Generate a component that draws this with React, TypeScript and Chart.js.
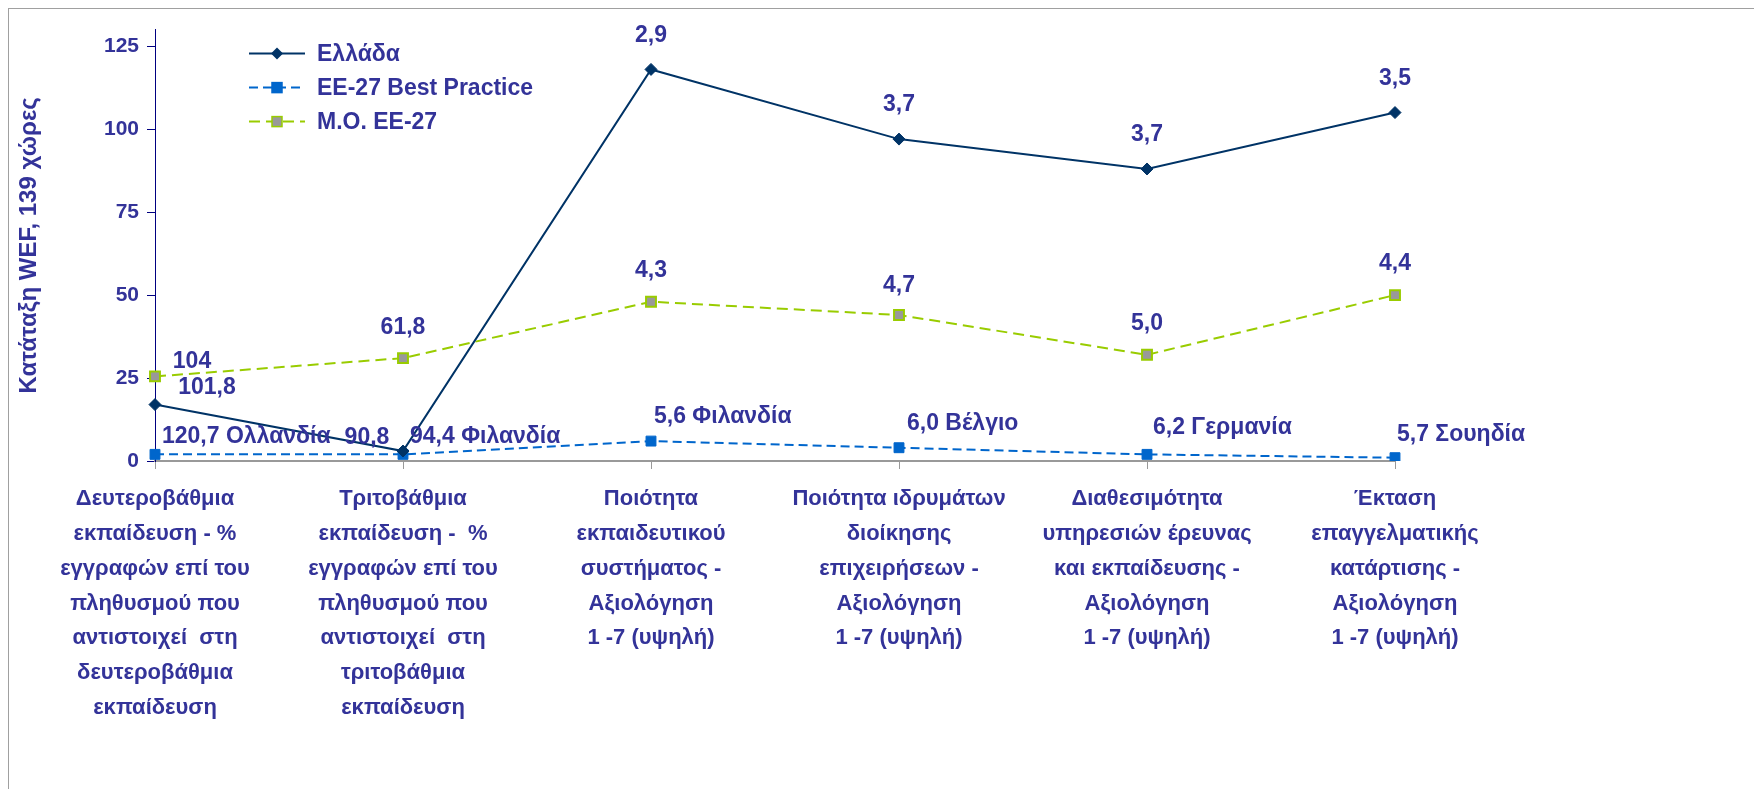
import React, { useEffect, useRef } from "react";
import { Chart, registerables } from "chart.js";

Chart.register(...registerables);

// ---------- data ----------
const categories: string[][] = [
  ["Δευτεροβάθμια", "εκπαίδευση - %", "εγγραφών επί του", "πληθυσμού που", "αντιστοιχεί  στη", "δευτεροβάθμια", "εκπαίδευση"],
  ["Τριτοβάθμια", "εκπαίδευση -  %", "εγγραφών επί του", "πληθυσμού που", "αντιστοιχεί  στη", "τριτοβάθμια", "εκπαίδευση"],
  ["Ποιότητα", "εκπαιδευτικού", "συστήματος -", "Αξιολόγηση", "1 -7 (υψηλή)"],
  ["Ποιότητα ιδρυμάτων", "διοίκησης", "επιχειρήσεων -", "Αξιολόγηση", "1 -7 (υψηλή)"],
  ["Διαθεσιμότητα", "υπηρεσιών έρευνας", "και εκπαίδευσης -", "Αξιολόγηση", "1 -7 (υψηλή)"],
  ["Έκταση", "επαγγελματικής", "κατάρτισης -", "Αξιολόγηση", "1 -7 (υψηλή)"],
];
const seriesNames = ["Ελλάδα", "ΕΕ-27 Best Practice", "Μ.Ο. ΕΕ-27"];
const greeceRank = [17, 3, 118, 97, 88, 105];
const bestRank = [2, 2, 6, 4, 2, 1];
const euAvgRank = [25.5, 31, 48, 44, 32, 50];
const greeceLabels = ["101,8", "90,8", "2,9", "3,7", "3,7", "3,5"];
const bestLabels = ["120,7 Ολλανδία", "94,4 Φιλανδία", "5,6 Φιλανδία", "6,0 Βέλγιο", "6,2 Γερμανία", "5,7 Σουηδία"];
const euAvgLabels = ["104", "61,8", "4,3", "4,7", "5,0", "4,4"];
const yTicks = [0, 25, 50, 75, 100, 125];
const yAxisMax = 130;
const yAxisTitle = "Κατάταξη WEF, 139 χώρες";

// ---------- styles ----------
const TEXT = "#333399";
const FONT = '"Liberation Sans", Arial, sans-serif';
const GREECE = "#003366";
const BEST = "#0066CC";
const AVG = "#99CC00";
const AVG_FILL = "#999999";

// label placement per series: [dx, dy, align]
const LABEL_OFFSETS: [number, number, CanvasTextAlign][][] = [
  [[52, -17, "center"], [-36, -13, "center"], [0, -34, "center"], [0, -34, "center"], [0, -34, "center"], [0, -34, "center"]],
  [[7, -18, "left"], [7, -18, "left"], [3, -24, "left"], [8, -24, "left"], [6, -27, "left"], [2, -23, "left"]],
  [[37, -15, "center"], [0, -30, "center"], [0, -31, "center"], [0, -29, "center"], [0, -31, "center"], [0, -31, "center"]],
];
const LABEL_SETS = [greeceLabels, bestLabels, euAvgLabels];

const labelPlugin = {
  id: "pointLabels",
  afterDatasetsDraw(chart: any) {
    const ctx = chart.ctx;
    ctx.save();
    ctx.font = `bold 23px ${FONT}`;
    ctx.fillStyle = TEXT;
    ctx.textBaseline = "middle";
    LABEL_SETS.forEach((set, di) => {
      const meta = chart.getDatasetMeta(di);
      meta.data.forEach((pt: any, i: number) => {
        const off = LABEL_OFFSETS[di][i];
        ctx.textAlign = off[2];
        ctx.fillText(set[i], pt.x + off[0], pt.y + off[1]);
      });
    });
    ctx.restore();
  },
};

const legendPlugin = {
  id: "insideLegend",
  afterDraw(chart: any) {
    const ctx = chart.ctx;
    const area = chart.chartArea;
    const x0 = area.left + 94;
    const y0 = area.top + 24;
    ctx.save();
    chart.data.datasets.forEach((ds: any, i: number) => {
      const y = y0 + i * 34;
      ctx.strokeStyle = ds.borderColor;
      ctx.lineWidth = 2;
      ctx.setLineDash(ds.borderDash || []);
      ctx.beginPath();
      ctx.moveTo(x0, y);
      ctx.lineTo(x0 + 56, y);
      ctx.stroke();
      ctx.setLineDash([]);
      const cx = x0 + 28;
      ctx.fillStyle = ds.pointBackgroundColor;
      ctx.strokeStyle = ds.pointBorderColor;
      ctx.lineWidth = 1.5;
      if (ds.pointStyle === "rectRot") {
        ctx.beginPath();
        ctx.moveTo(cx, y - 6);
        ctx.lineTo(cx + 6, y);
        ctx.lineTo(cx, y + 6);
        ctx.lineTo(cx - 6, y);
        ctx.closePath();
        ctx.fill();
      } else {
        ctx.fillRect(cx - 5, y - 5, 10, 10);
        ctx.strokeRect(cx - 5, y - 5, 10, 10);
      }
      ctx.fillStyle = TEXT;
      ctx.font = `bold 23px ${FONT}`;
      ctx.textAlign = "left";
      ctx.textBaseline = "middle";
      ctx.fillText(ds.label, x0 + 68, y + 1);
    });
    ctx.restore();
  },
};

export default function App() {
  const ref = useRef<HTMLCanvasElement | null>(null);

  useEffect(() => {
    if (!ref.current) return;
    const chart = new Chart(ref.current, {
      type: "line",
      data: {
        labels: categories,
        datasets: [
          {
            label: seriesNames[0],
            data: greeceRank,
            borderColor: GREECE,
            borderWidth: 2,
            pointStyle: "rectRot",
            pointRadius: 6,
            pointBackgroundColor: GREECE,
            pointBorderColor: GREECE,
            pointBorderWidth: 1,
            tension: 0,
          } as any,
          {
            label: seriesNames[1],
            data: bestRank,
            borderColor: BEST,
            borderWidth: 2,
            borderDash: [9, 5],
            pointStyle: "rect",
            pointRadius: 7,
            pointBackgroundColor: BEST,
            pointBorderColor: BEST,
            pointBorderWidth: 1,
            tension: 0,
          } as any,
          {
            label: seriesNames[2],
            data: euAvgRank,
            borderColor: AVG,
            borderWidth: 2,
            borderDash: [11, 6],
            pointStyle: "rect",
            pointRadius: 7,
            pointBackgroundColor: AVG_FILL,
            pointBorderColor: AVG,
            pointBorderWidth: 2,
            tension: 0,
          } as any,
        ],
      },
      options: {
        responsive: false,
        animation: false,
        layout: { padding: { left: 0, top: 18, right: 366, bottom: 0 } },
        plugins: {
          legend: { display: false },
          tooltip: { enabled: false },
          title: { display: false },
        },
        scales: {
          x: {
            type: "category",
            offset: false,
            grid: {
              drawOnChartArea: false,
              drawTicks: true,
              tickLength: 8,
              color: "#999999",
              offset: false,
            },
            border: { display: true, color: "#999999", width: 2 },
            ticks: {
              autoSkip: false,
              maxRotation: 0,
              minRotation: 0,
              padding: 13,
              color: TEXT,
              font: { family: FONT, size: 22, weight: "bold", lineHeight: 1.58 },
            },
            afterFit: (scale: any) => {
              scale.height = 328;
            },
          },
          y: {
            min: 0,
            max: yAxisMax,
            grid: {
              drawOnChartArea: false,
              drawTicks: true,
              tickLength: 8,
              color: "#000080",
            },
            border: { display: true, color: "#000080", width: 1 },
            ticks: {
              stepSize: 25,
              padding: 8,
              color: TEXT,
              font: { family: FONT, size: 21, weight: "bold" },
            },
            afterBuildTicks: (scale: any) => {
              scale.ticks = yTicks.map((v) => ({ value: v }));
            },
            title: {
              display: true,
              text: yAxisTitle,
              color: TEXT,
              padding: { top: 6, bottom: 0 },
              font: { family: FONT, size: 24, weight: "bold" },
            },
            afterFit: (scale: any) => {
              scale.width = 146;
            },
          },
        },
      },
      plugins: [labelPlugin, legendPlugin],
    });
    return () => chart.destroy();
  }, []);

  return (
    <div
      style={{
        position: "relative",
        width: 1754,
        height: 782,
        borderTop: "2px solid #a0a0a0",
        borderLeft: "2px solid #a0a0a0",
        boxSizing: "border-box",
        marginLeft: -1,
        marginTop: -1,
      }}
    >
      <canvas ref={ref} width={1752} height={780} style={{ display: "block" }} />
    </div>
  );
}
